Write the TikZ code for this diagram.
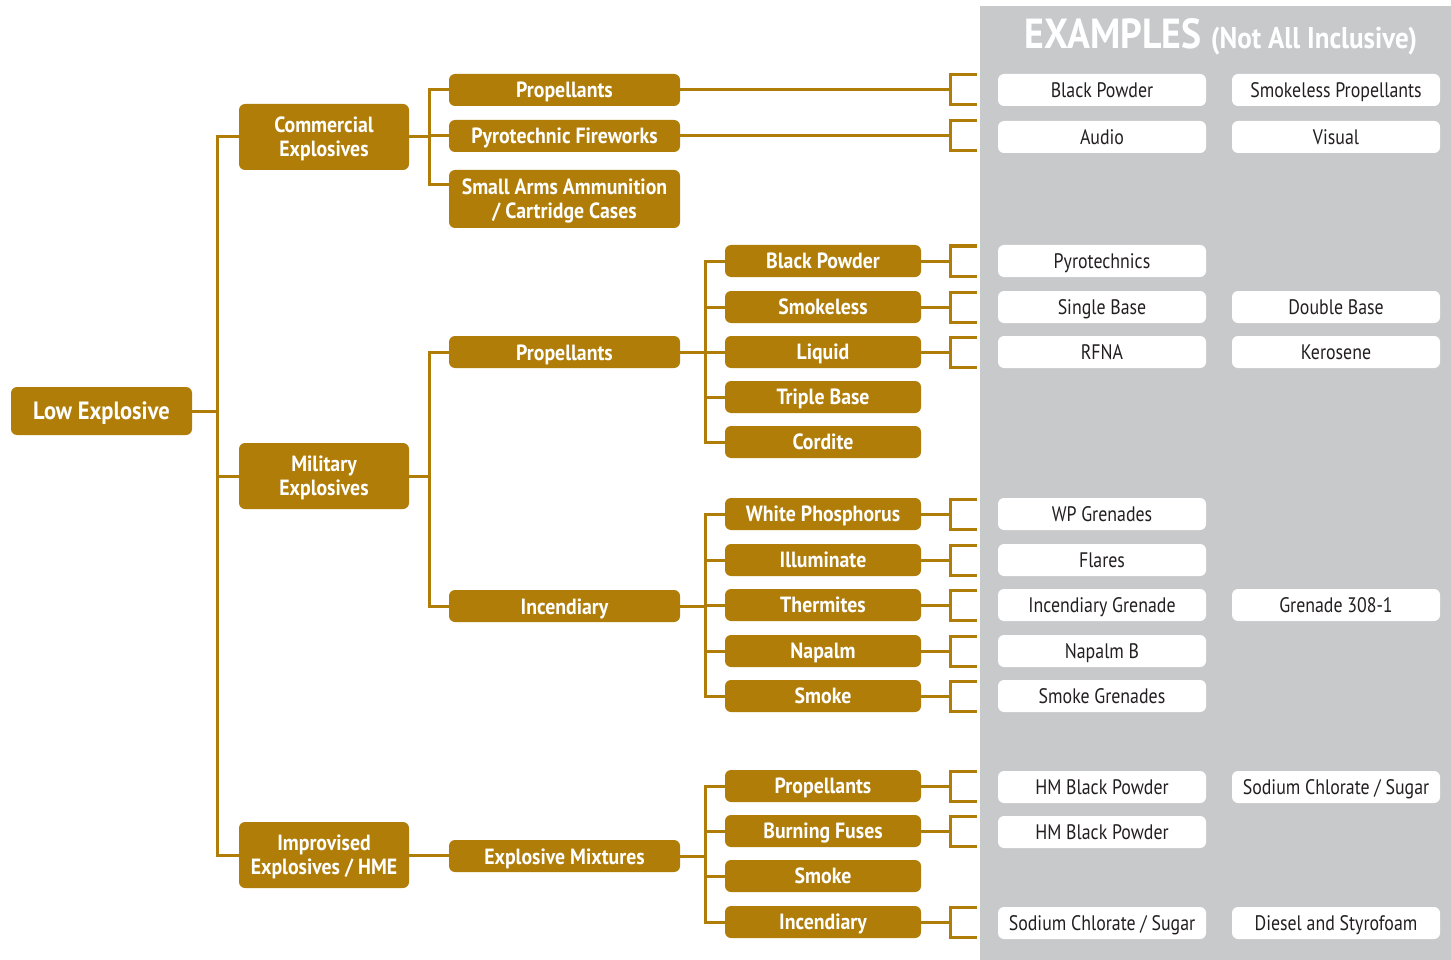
\documentclass[tikz,border=0pt]{standalone}
\usepackage{fontspec}
\setmainfont{PT Sans}[FakeStretch=0.82]
\newfontfamily\gfont{PT Sans}[FakeStretch=0.9]
\newfontfamily\efont{PT Sans}[FakeStretch=0.85]
\usetikzlibrary{calc}
\definecolor{gold}{RGB}{176,125,9}
\definecolor{panel}{RGB}{200,201,203}
\definecolor{ink}{RGB}{35,31,32}
\begin{document}
\begin{tikzpicture}[x=1pt,y=-1pt,
  gbox/.style={fill=gold,rounded corners=6pt,text=white,font=\gfont\bfseries\fontsize{22}{24}\selectfont,
    align=center,inner sep=0pt,minimum height=32pt},
  oneline/.style={text height=#1,text depth=0pt},
  twoline/.style={text depth=1pt},
  lvtwo/.style={gbox,twoline,minimum width=170pt,minimum height=66pt},
  lvthree/.style={gbox,oneline=16pt,minimum width=231pt},
  lvfour/.style={gbox,oneline=15.5pt,minimum width=196pt},
  ex/.style={fill=white,rounded corners=6pt,text=ink,font=\efont\fontsize{21}{23}\selectfont,
    oneline=14.7pt,inner sep=0pt,minimum width=208pt,minimum height=32pt},
  conn/.style={draw=gold,line width=3pt},
  brk/.style={draw=gold,line width=3pt}
]
\useasboundingbox (0,0) rectangle (1451,960);
\fill[panel] (980,6) rectangle (1451,960);

\node[text=white,font=\gfont\bfseries] (hdr) at (1221,37)
  {\fontsize{42}{44}\selectfont EXAMPLES \fontsize{30}{32}\selectfont(Not All Inclusive)};

% root
\node[gbox,oneline=17.5pt,minimum width=181pt,minimum height=48pt,font=\gfont\bfseries\fontsize{25}{27}\selectfont] (le) at (101.5,411) {Low Explosive};

% second level
\node[lvtwo] (com) at (324,137) {Commercial\\Explosives};
\node[lvtwo] (mil) at (324,476) {Military\\Explosives};
\node[lvtwo] (imp) at (324,855) {Improvised\\Explosives / HME};

% third level
\node[lvthree] (cprop) at (564.5,90) {Propellants};
\node[lvthree] (pyro) at (564.5,136) {Pyrotechnic Fireworks};
\node[gbox,twoline,minimum width=231pt,minimum height=58pt] (arms) at (564.5,199) {Small Arms Ammunition\\/ Cartridge Cases};
\node[lvthree] (mprop) at (564.5,352) {Propellants};
\node[lvthree] (minc) at (564.5,606) {Incendiary};
\node[lvthree] (mix) at (564.5,856) {Explosive Mixtures};

% fourth level
\node[lvfour] (bp) at (823,261) {Black Powder};
\node[lvfour] (sml) at (823,307) {Smokeless};
\node[lvfour] (liq) at (823,352) {Liquid};
\node[lvfour] (tri) at (823,397) {Triple Base};
\node[lvfour] (cor) at (823,442) {Cordite};
\node[lvfour] (wp) at (823,514) {White Phosphorus};
\node[lvfour] (ill) at (823,560) {Illuminate};
\node[lvfour] (the) at (823,605) {Thermites};
\node[lvfour] (nap) at (823,651) {Napalm};
\node[lvfour] (smk) at (823,696) {Smoke};
\node[lvfour] (hprop) at (823,786) {Propellants};
\node[lvfour] (fuse) at (823,831) {Burning Fuses};
\node[lvfour] (hsmk) at (823,876) {Smoke};
\node[lvfour] (hinc) at (823,922) {Incendiary};

% examples
\node[ex] (e1a) at (1102,90) {Black Powder};
\node[ex] (e1b) at (1336,90) {Smokeless Propellants};
\node[ex] (e2a) at (1102,137) {Audio};
\node[ex] (e2b) at (1336,137) {Visual};
\node[ex] (e3a) at (1102,261) {Pyrotechnics};
\node[ex] (e4a) at (1102,307) {Single Base};
\node[ex] (e4b) at (1336,307) {Double Base};
\node[ex] (e5a) at (1102,352) {RFNA};
\node[ex] (e5b) at (1336,352) {Kerosene};
\node[ex] (e6a) at (1102,514) {WP Grenades};
\node[ex] (e7a) at (1102,560) {Flares};
\node[ex] (e8a) at (1102,605) {Incendiary Grenade};
\node[ex] (e8b) at (1336,605) {Grenade 308-1};
\node[ex] (e9a) at (1102,651) {Napalm B};
\node[ex] (e10a) at (1102,696) {Smoke Grenades};
\node[ex] (e11a) at (1102,787) {HM Black Powder};
\node[ex] (e11b) at (1336,787) {Sodium Chlorate / Sugar};
\node[ex] (e12a) at (1102,832) {HM Black Powder};
\node[ex] (e13a) at (1102,923) {Sodium Chlorate / Sugar};
\node[ex] (e13b) at (1336,923) {Diesel and Styrofoam};

% tree connectors
\draw[conn] (le.east) -- ++(25,0) |- (com.west);
\draw[conn] (le.east) -- ++(25,0) |- (mil.west);
\draw[conn] (le.east) -- ++(25,0) |- (imp.west);

\draw[conn] (com.east) -- ++(20,0) |- (cprop.west);
\draw[conn] (com.east) -- ++(20,0) |- (pyro.west);
\draw[conn] (com.east) -- ++(20,0) |- ($(arms.west)+(0,-14)$);

\draw[conn] (mil.east) -- ++(20,0) |- (mprop.west);
\draw[conn] (mil.east) -- ++(20,0) |- (minc.west);
\draw[conn] (imp.east) -- (imp.east -| mix.west);

\foreach \c in {bp,sml,liq,tri,cor}
  \draw[conn] (mprop.east) -- ++(25,0) |- (\c.west);
\foreach \c in {wp,ill,the,nap,smk}
  \draw[conn] (minc.east) -- ++(25,0) |- (\c.west);
\foreach \c in {hprop,fuse,hsmk,hinc}
  \draw[conn] (mix.east) -- ++(25,0) |- (\c.west);

% brackets leading to the examples
\foreach \c in {cprop,pyro,bp,sml,liq,wp,ill,the,nap,smk,hprop,fuse,hinc}
  \draw[brk] (\c.east) -- (\c.east -| 950,0)
    ++(27,-15) -- ++(-27,0) -- ++(0,30) -- ++(27,0);
\end{tikzpicture}
\end{document}
